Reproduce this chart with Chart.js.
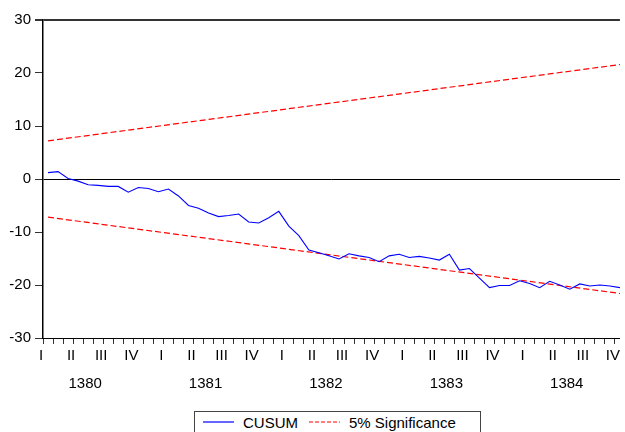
<!DOCTYPE html>
<html>
<head>
<meta charset="utf-8">
<script src="https://cdn.jsdelivr.net/npm/chart.js@4.4.0/dist/chart.umd.min.js"></script>
<style>
  html, body { margin: 0; padding: 0; background: #fff; overflow: hidden; }
  #wrap { position: relative; width: 625px; height: 432px; }
  #legend {
    position: absolute; left: 194px; top: 411px; width: 287px; height: 30px;
    border: 1px solid #444; box-sizing: border-box; background: #fff;
    font: 15px "Liberation Sans", Arial, sans-serif; color: #000;
    display: flex; align-items: center; padding-left: 8px; padding-bottom: 8px;
  }
  #legend .item { display: flex; align-items: center; }
  #legend svg { margin-right: 9px; }
  #legend .item + .item { margin-left: 11px; }
</style>
</head>
<body>
<div id="wrap">
  <canvas id="myChart" width="625" height="432"></canvas>
  <div id="legend"></div>
</div>
<script>
  // data
  const years = ['1380', '1381', '1382', '1383', '1384'];
  const quarters = ['I', 'II', 'III', 'IV'];

  // monthly CUSUM
  const cusum = [
    1.2, 1.4, 0.1, -0.4, -1.1, -1.2, -1.4, -1.4, -2.5, -1.6, -1.8, -2.4,
    -1.9, -3.2, -5.0, -5.5, -6.4, -7.1, -6.9, -6.6, -8.1, -8.3, -7.3, -6.1,
    -8.9, -10.7, -13.4, -13.9, -14.5, -15.1, -14.1, -14.5, -14.8, -15.6, -14.5, -14.2,
    -14.8, -14.6, -14.9, -15.3, -14.2, -17.2, -16.9, -18.7, -20.5, -20.1, -20.1, -19.2,
    -19.7, -20.5, -19.3, -20.0, -20.8, -19.8, -20.2, -20.0, -20.2, -20.5
  ];
  // 5% bands, first and last value
  const upperBand = [7.2, 21.6];
  const lowerBand = [-7.2, -21.6];

  const n = cusum.length;
  const cusumPts = cusum.map((v, i) => ({ x: i + 0.5, y: v }));
  const upperPts = [{ x: 0.5, y: upperBand[0] }, { x: n - 0.5, y: upperBand[1] }];
  const lowerPts = [{ x: 0.5, y: lowerBand[0] }, { x: n - 0.5, y: lowerBand[1] }];

  const font = { family: '"Liberation Sans", Arial, sans-serif', size: 15 };

  const config = {
    type: 'line',
    data: {
      datasets: [{
        label: 'CUSUM',
        data: cusumPts,
        borderColor: '#0000ff',
        borderWidth: 1.1
      }, {
        label: '5% Significance',
        data: upperPts,
        borderColor: '#ff0000',
        borderWidth: 1.2,
        borderDash: [6, 3]
      }, {
        label: '5% Significance',
        data: lowerPts,
        borderColor: '#ff0000',
        borderWidth: 1.2,
        borderDash: [6, 3],
        hideInLegend: true
      }]
    },
    options: {
      responsive: false,
      animation: false,
      events: [],
      layout: { padding: { top: 20, right: 0, bottom: 30, left: 0 } },
      elements: { point: { radius: 0 }, line: { tension: 0 } },
      plugins: { legend: { display: false }, tooltip: { enabled: false } },
      scales: {
        x: {
          type: 'linear', position: 'bottom', min: 0, max: n - 0.5,
          grid: { drawOnChartArea: false, drawTicks: true, tickLength: 6, color: '#333' },
          border: { color: '#000', width: 1 },
          ticks: {
            autoSkip: false, maxRotation: 0, padding: 3, labelOffset: -2,
            color: '#000', font: font,
            callback: v => (v % 3 === 0 ? quarters[(v / 3) % 4] : '')
          },
          afterBuildTicks: axis => { axis.ticks = cusum.map((_, i) => ({ value: i })); },
          afterFit: axis => { axis.height = 30; }
        },
        x2: {
          type: 'linear', position: 'bottom', min: 0, max: n - 0.5,
          grid: { display: false, drawTicks: false },
          border: { display: false },
          ticks: {
            autoSkip: false, maxRotation: 0, padding: 7,
            color: '#000', font: font,
            callback: (v, i) => years[i]
          },
          afterBuildTicks: axis => { axis.ticks = years.map((_, i) => ({ value: 4.2 + 12 * i })); },
          afterFit: axis => { axis.height = 34; }
        },
        y: {
          min: -30, max: 30,
          ticks: { stepSize: 10, padding: 4, color: '#000', font: font },
          grid: {
            drawTicks: true, tickLength: 8, tickColor: '#333',
            color: c => (c.tick && c.tick.value === 0 ? '#000' : (c.tick && c.tick.value === 30 ? '#333' : 'rgba(0,0,0,0)')),
            lineWidth: c => (c.tick && c.tick.value === 30 ? 2 : 1)
          },
          border: { color: '#000', width: 1.5 },
          afterFit: axis => { axis.width = 43; }
        }
      }
    }
  };

  const myChart = new Chart(document.getElementById('myChart'), config);

  // legend in a box under the chart
  const legendEl = document.getElementById('legend');
  myChart.data.datasets.forEach(ds => {
    if (ds.hideInLegend) return;
    const item = document.createElement('div');
    item.className = 'item';
    const dash = ds.borderDash ? 'stroke-dasharray="4 2"' : '';
    item.innerHTML = '<svg width="31" height="6"><line x1="0" y1="3" x2="31" y2="3" stroke="' +
      ds.borderColor + '" stroke-width="1.2" ' + dash + '/></svg><span>' + ds.label + '</span>';
    legendEl.appendChild(item);
  });
</script>
</body>
</html>
